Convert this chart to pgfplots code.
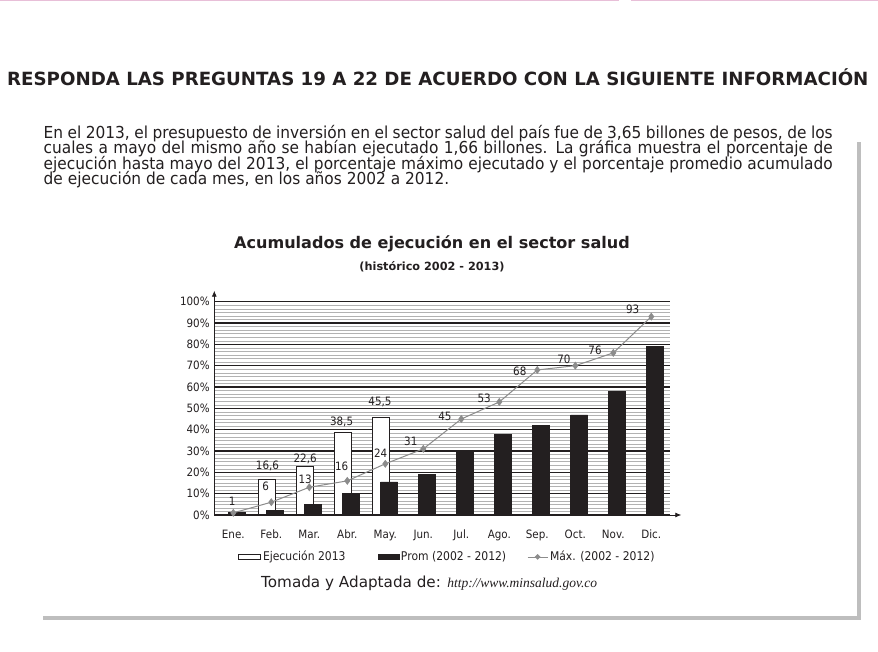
\documentclass[border=0pt]{standalone}
\usepackage{fontspec}
\usepackage{pgfplots}
\usetikzlibrary{arrows.meta}
\pgfplotsset{compat=1.18}
\setmainfont{DejaVu Sans}
\newfontfamily\headfont{DejaVu Sans}
\newfontfamily\bodyfont[FakeStretch=0.933]{DejaVu Sans}
\newfontfamily\chartfont[FakeStretch=0.9]{DejaVu Sans}
\newfontfamily\urlfont{Liberation Serif}
\definecolor{ink}{HTML}{231F20}
\definecolor{maxgray}{HTML}{8C8C8C}
\definecolor{bordergray}{HTML}{BEBEBE}
\definecolor{pinkline}{HTML}{E8BFD8}
\newcommand{\cf}{\chartfont\fontsize{11.5}{13}\selectfont}
\newcommand{\lf}{\chartfont\fontsize{12}{13}\selectfont}
\begin{document}
\begin{tikzpicture}[x=1pt,y=1pt]
\useasboundingbox (0,0) rectangle (878,652);
\fill[white] (0,0) rectangle (878,652);
\draw[pinkline, line width=1.5pt] (0,651.3) -- (619,651.3);
\draw[pinkline, line width=1.5pt] (631,651.3) -- (878,651.3);
\node[anchor=base west, inner sep=0pt, text=ink] at (7,566) {\headfont\bfseries\fontsize{18.2}{20}\selectfont RESPONDA LAS PREGUNTAS 19 A 22 DE ACUERDO CON LA SIGUIENTE INFORMACIÓN};
\node[anchor=base west, inner sep=0pt, text=ink] at (43.5,513.7) {\bodyfont\fontsize{16.5}{16}\selectfont\makebox[789pt][s]{En el 2013, el presupuesto de inversión en el sector salud del país fue de 3,65 billones de pesos, de los}};
\node[anchor=base west, inner sep=0pt, text=ink] at (43.5,498.2) {\bodyfont\fontsize{16.5}{16}\selectfont\makebox[789pt][s]{cuales a mayo del mismo año se habían ejecutado 1,66 billones. La gráfica muestra el porcentaje de}};
\node[anchor=base west, inner sep=0pt, text=ink] at (43.5,482.7) {\bodyfont\fontsize{16.5}{16}\selectfont\makebox[789pt][s]{ejecución hasta mayo del 2013, el porcentaje máximo ejecutado y el porcentaje promedio acumulado}};
\node[anchor=base west, inner sep=0pt, text=ink] at (43.5,467.2) {\bodyfont\fontsize{16.5}{16}\selectfont de ejecución de cada mes, en los años 2002 a 2012.};
\fill[bordergray] (43,32) rectangle (861,36);
\fill[bordergray] (857,32) rectangle (861,510);
\node[anchor=base, inner sep=0pt, text=ink] at (432,403) {\headfont\bfseries\fontsize{16.05}{18}\selectfont Acumulados de ejecución en el sector salud};
\node[anchor=base, inner sep=0pt, text=ink] at (432,381) {\headfont\bfseries\fontsize{11.27}{13}\selectfont (histórico 2002 - 2013)};
\node[anchor=base west, inner sep=0pt, text=ink] at (261,64) {\headfont\fontsize{15.2}{17}\selectfont Tomada y Adaptada de: \urlfont\itshape\fontsize{13.5}{17}\selectfont http://www.minsalud.gov.co};
\begin{axis}[
  at={(214.3pt,137pt)}, anchor=south west, scale only axis,
  width=456pt, height=213.3pt,
  xmin=0.5, xmax=12.5, ymin=0, ymax=100,
  axis lines=left,
  axis line style={ink, line width=0.8pt, -{Latex[length=6pt,width=5pt]}, shorten >=-11pt},
  ytick={0,10,...,100}, minor y tick num=5,
  ymajorgrids, yminorgrids,
  major grid style={ink, line width=1.3pt},
  minor grid style={gray!60, line width=0.5pt},
  tick style={draw=none},
  xtick={1,...,12},
  xticklabels={Ene.,Feb.,Mar.,Abr.,May.,Jun.,Jul.,Ago.,Sep.,Oct.,Nov.,Dic.},
  yticklabel={\pgfmathprintnumber{\tick}\%},
  /pgf/number format/assume math mode=true,
  ticklabel style={font=\cf, text=ink},
  xticklabel style={yshift=-9pt},
  yticklabel style={xshift=1pt},
  clip=false,
  legend style={draw=none, fill=none, at={(0.052,-0.1965)}, anchor=west, legend columns=3, font=\lf, text=ink, inner xsep=0pt,
    /tikz/column 2/.style={column sep=30pt}, /tikz/column 4/.style={column sep=19pt}},
  legend cell align=left,
]
\addplot[ybar, bar width=0.45, bar shift=-0.11, fill=white, draw=ink, line width=1pt,
  legend image code/.code={\draw[ink, line width=0.8pt, fill=white] (0pt,-2.5pt) rectangle (22pt,2.5pt);}]
  coordinates {(2,16.6) (3,22.6) (4,38.5) (5,45.5)};
\addlegendentry{Ejecución 2013}
\addplot[ybar, bar width=0.45, bar shift=0.1, fill=ink, draw=ink,
  legend image code/.code={\fill[ink] (0pt,-2.5pt) rectangle (21pt,2.5pt);}]
  coordinates {(1,1.2) (2,2.3) (3,5) (4,10.2) (5,15.5) (6,19) (7,30.2) (8,37.8) (9,41.9) (10,46.9) (11,58) (12,78.9)};
\addlegendentry{Prom (2002 - 2012)}
\addplot[maxgray, line width=1pt, mark=diamond*, mark size=3.2pt, mark options={fill=maxgray, draw=maxgray},
  legend image code/.code={\draw[maxgray, line width=0.8pt] (0pt,0pt) -- (20pt,0pt); \fill[maxgray] (10pt,2.2pt) -- (12.2pt,0pt) -- (10pt,-2.2pt) -- (7.8pt,0pt) -- cycle;}]
  coordinates {(1,1) (2,6) (3,13) (4,16) (5,24) (6,31) (7,45) (8,53) (9,68) (10,70) (11,76) (12,93)};
\addlegendentry{Máx. (2002 - 2012)}
\node[font=\cf, text=ink] at (axis cs:0.97,6.2) {1};
\node[font=\cf, text=ink] at (axis cs:1.85,13.3) {6};
\node[font=\cf, text=ink] at (axis cs:2.89,16.9) {13};
\node[font=\cf, text=ink] at (axis cs:3.85,23.0) {16};
\node[font=\cf, text=ink] at (axis cs:4.88,29.1) {24};
\node[font=\cf, text=ink] at (axis cs:5.67,34.4) {31};
\node[font=\cf, text=ink] at (axis cs:6.57,46.4) {45};
\node[font=\cf, text=ink] at (axis cs:7.60,54.9) {53};
\node[font=\cf, text=ink] at (axis cs:8.54,67.2) {68};
\node[font=\cf, text=ink] at (axis cs:9.70,73.1) {70};
\node[font=\cf, text=ink] at (axis cs:10.52,77.0) {76};
\node[font=\cf, text=ink] at (axis cs:11.51,96.6) {93};
\node[font=\cf, text=ink] at (axis cs:1.90,23.0) {16,6};
\node[font=\cf, text=ink] at (axis cs:2.89,26.3) {22,6};
\node[font=\cf, text=ink] at (axis cs:3.85,43.7) {38,5};
\node[font=\cf, text=ink] at (axis cs:4.86,53.1) {45,5};
\end{axis}
\end{tikzpicture}
\end{document}
